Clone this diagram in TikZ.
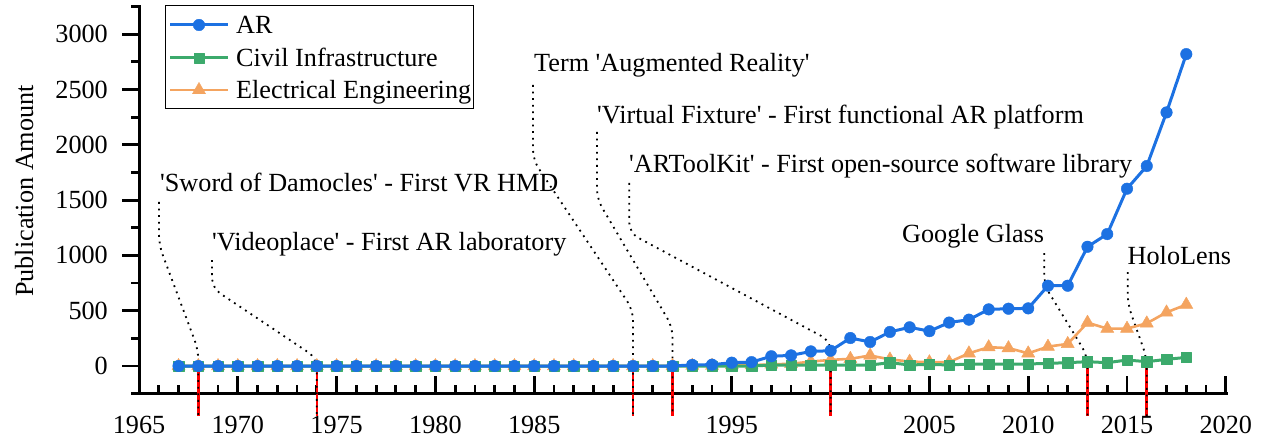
\documentclass[tikz,border=0pt]{standalone}
\usepackage{fontspec}
\setmainfont{Liberation Serif}[Ligatures=TeXOff]
\usetikzlibrary{plotmarks}
\definecolor{arblue}{RGB}{28,113,226}
\definecolor{cigreen}{RGB}{60,170,108}
\definecolor{eeorange}{RGB}{244,164,96}
\begin{document}
\begin{tikzpicture}[x=1pt,y=-1pt,
  font=\fontsize{26.2}{31}\selectfont,
  axisline/.style={line width=3pt, line cap=rect},
  tickm/.style={line width=2.8pt},
  leader/.style={line width=1.8pt, dash pattern=on 1.8pt off 4.8pt, rounded corners=10pt},
  redmark/.style={red, line width=2.6pt},
  lab/.style={inner sep=0pt, anchor=base west},
  arline/.style={arblue, line width=3pt, line join=round, mark=*, mark size=5.8pt, mark options={line width=0.4pt}},
  ciline/.style={cigreen, line width=3pt, line join=round, mark=square*, mark size=5.2pt, mark options={line width=0.4pt}},
  eeline/.style={eeorange, line width=2.6pt, line join=round, mark=triangle*, mark size=7.6pt, mark options={line width=0.4pt}}]
\useasboundingbox (0,0) rectangle (1262,441);

% axes
\draw[axisline] (139,6.5) -- (139,393.6) -- (1226,393.6);
\foreach \i in {0,...,55} \draw[tickm] ({139+\i*19.76},393.6) -- ++(0,-8.5);
\foreach \i in {0,5,...,55} \draw[tickm] ({139+\i*19.76},393.6) -- ++(0,-17.5);
\foreach \v in {0,500,...,3000} \draw[tickm] (139,{366-\v*0.1106}) -- ++(-17.5,0);
\foreach \v in {-250,250,...,3250} \draw[tickm] (139,{366-\v*0.1106}) -- ++(-8.5,0);
\foreach \v in {0,500,...,3000} \node[anchor=east, inner sep=0pt] (yl\v) at (108,{366-\v*0.1106}) {\v};
\foreach \yr in {1965,1970,1975,1980,1985,1995,2005,2010,2015,2020}
  \node[inner sep=0pt] (xl\yr) at ({139+(\yr-1965)*19.76},425) {\yr};
\node[rotate=90, anchor=base, inner sep=0pt] (ylab) at (33,191) {Publication Amount};

% red event marks
\foreach \yr in {1968,1974,1990,1992,2000,2013,2016}
  \draw[redmark] ({139+(\yr-1965)*19.76},366) -- ++(0,50);

% annotation labels
\node[lab] (sword) at (160,192) {'Sword of Damocles' - First VR HMD};
\node[lab] (video) at (212,250) {'Videoplace' - First AR laboratory};
\node[lab] (term) at (534,72) {Term 'Augmented Reality'};
\node[lab] (vfix) at (597,124) {'Virtual Fixture' - First functional AR platform};
\node[lab] (artk) at (629,173) {'ARToolKit' - First open-source software library};
\node[lab] (glass) at (902,243) {Google Glass};
\node[lab] (holo) at (1127.5,264) {HoloLens};

% leaders
\draw[leader] (159,202) -- (159,245) -- (198.3,350) -- (198.3,416);
\draw[leader] (212,260) -- (212,288) -- (316.8,358) -- (316.8,416);
\draw[leader] (533,85) -- (533,160) -- (633,310) -- (633,416);
\draw[leader] (597,132) -- (597,199) -- (672.5,327) -- (672.5,416);
\draw[leader] (629.3,183) -- (629.3,233) -- (830.6,341) -- (830.6,416);
\draw[leader] (1044.3,253) -- (1044.3,285) -- (1087.5,356) -- (1087.5,416);
\draw[leader] (1127.7,272) -- (1127.7,304) -- (1146.8,358) -- (1146.8,416);

% data
\begin{scope}[shift={(139,366)}]
\begin{scope}[x=19.76pt, y=0.1106pt]
\draw[eeline] plot coordinates {(2,0) (3,0) (4,0) (5,0) (6,0) (7,0) (8,0) (9,0) (10,0) (11,0) (12,0) (13,0) (14,0) (15,0) (16,0) (17,0) (18,0) (19,0) (20,0) (21,0) (22,0) (23,0) (24,0) (25,0) (26,0) (27,0) (28,3) (29,3) (30,8) (31,8) (32,15) (33,20) (34,40) (35,55) (36,65) (37,95) (38,60) (39,40) (40,35) (41,35) (42,115) (43,170) (44,162) (45,115) (46,175) (47,200) (48,392) (49,338) (50,338) (51,386) (52,485) (53,555)};
\draw[ciline] plot coordinates {(2,0) (3,0) (4,0) (5,0) (6,0) (7,0) (8,0) (9,0) (10,0) (11,0) (12,0) (13,0) (14,0) (15,0) (16,0) (17,0) (18,0) (19,0) (20,0) (21,0) (22,0) (23,0) (24,0) (25,0) (26,0) (27,0) (28,0) (29,0) (30,0) (31,0) (32,8) (33,8) (34,8) (35,9) (36,9) (37,9) (38,30) (39,9) (40,15) (41,9) (42,18) (43,15) (44,18) (45,18) (46,24) (47,30) (48,39) (49,30) (50,54) (51,39) (52,60) (53,78)};
\draw[arline] plot coordinates {(2,0) (3,0) (4,0) (5,0) (6,0) (7,0) (8,0) (9,0) (10,0) (11,0) (12,0) (13,0) (14,0) (15,0) (16,0) (17,0) (18,0) (19,0) (20,0) (21,0) (22,0) (23,0) (24,0) (25,0) (26,0) (27,0) (28,10) (29,12) (30,30) (31,35) (32,88) (33,96) (34,132) (35,138) (36,253) (37,217) (38,308) (39,350) (40,315) (41,393) (42,419) (43,512) (44,518) (45,521) (46,726) (47,726) (48,1078) (49,1193) (50,1603) (51,1808) (52,2293) (53,2820)};
\end{scope}
\end{scope}

% legend
\node[draw=black, line width=1pt, fill=white, minimum width=308pt, minimum height=103pt, inner sep=0pt] (legend) at (319,57.5) {};
\draw[arline, mark indices={2}] plot coordinates {(170,25) (199,25) (228,25)};
\draw[ciline, mark indices={2}] plot coordinates {(170,58) (199,58) (228,58)};
\draw[eeline, mark indices={2}] plot coordinates {(170,90) (199,90) (228,90)};
\node[lab] (lar) at (236,34) {AR};
\node[lab] (lci) at (236,66.5) {Civil Infrastructure};
\node[lab] (lee) at (236,99) {Electrical Engineering};
\end{tikzpicture}
\end{document}
